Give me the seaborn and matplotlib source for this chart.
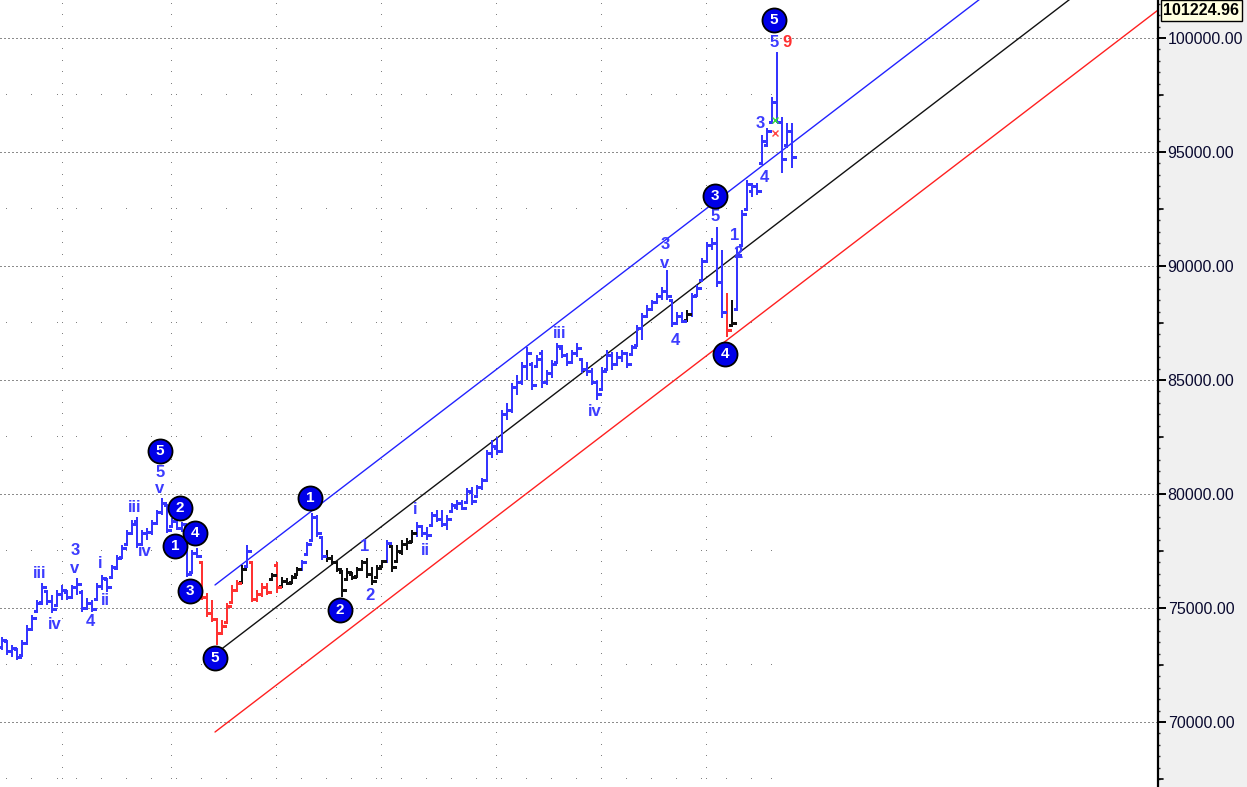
import numpy as np
import pandas as pd
import matplotlib
matplotlib.use("Agg")
import matplotlib.pyplot as plt
import seaborn as sns
from matplotlib.ticker import MultipleLocator, FuncFormatter
from matplotlib.patches import Rectangle

# ---------------- data ----------------
highs = [73730, 73600, 73380, 73250, 73600, 74260, 74690, 75350, 76100, 75790,
         75570, 75790, 76010, 75790, 76010, 76320, 75790, 75440, 75350, 76100,
         76450, 76320, 76890, 77330, 77760, 78420, 78860, 78990, 78420, 78510,
         78860, 79300, 79830, 79520, 78950, 78860, 78770, 78640, 77540, 77630,
         77020, 75660, 75350, 74560, 74470, 75220, 76010, 76230, 76890, 77760,
         77020, 75790, 76100, 76100, 76540, 77020, 76360, 76320, 76450, 76800,
         77110, 77900, 79170, 79080, 78110, 77540, 77330, 77020, 76670, 76750,
         76580, 76800, 77110, 77190, 76800, 76890, 77110, 77980, 77760, 77760,
         77980, 78070, 78420, 78770, 78640, 78550, 79210, 79300, 79300, 79080,
         79610, 79740, 79740, 80260, 80310, 80400, 80700, 81930, 82370, 82500,
         83680, 83990, 84870, 85220, 85790, 86450, 85790, 86100, 86320, 85440,
         85880, 86620, 86540, 86190, 86320, 86620, 85970, 85790, 85530, 85000,
         85570, 86320, 86230, 86230, 86320, 86230, 86540, 87410, 87940, 88290,
         88510, 88820, 89080, 89830, 88510, 87980, 87980, 88070, 88820, 89170,
         90350, 91050, 91230, 91710, 90700, 88820, 88510, 90830, 92460, 93770,
         93640, 93640, 95750, 96050, 97410, 99390, 96540, 96270, 96270]
lows = [73160, 72940, 72850, 72720, 72940, 73380, 74040, 74830, 75130, 75130,
        74780, 75130, 75350, 75350, 75440, 75570, 74830, 74910, 74830, 75350,
        75790, 75700, 76320, 76670, 77190, 77760, 78200, 77630, 77760, 77980,
        78200, 78640, 79080, 78290, 78550, 78420, 78330, 76360, 76580, 77190,
        75350, 74610, 74390, 73380, 73820, 74390, 75220, 75700, 76100, 76800,
        75260, 75260, 75480, 75570, 76230, 75660, 75920, 76010, 76140, 76450,
        76670, 77330, 77980, 78110, 77110, 77020, 76890, 76580, 75480, 76230,
        76230, 76360, 76670, 76320, 76010, 76320, 76800, 77020, 76580, 77020,
        77330, 77540, 77900, 78110, 78110, 77980, 78640, 78770, 78550, 78420,
        79210, 79300, 79300, 79610, 79520, 79870, 80180, 80530, 81580, 81710,
        81800, 83250, 83550, 84340, 84780, 85000, 84560, 85530, 84650, 84780,
        85090, 85750, 85970, 85610, 85790, 86010, 85310, 85180, 84780, 84120,
        84560, 85440, 85440, 85660, 85790, 85530, 86100, 86540, 86750, 87720,
        88070, 88380, 88510, 88510, 87330, 87410, 87500, 87630, 87760, 88730,
        89390, 90130, 90700, 89080, 87720, 86890, 87330, 88070, 90830, 92460,
        93030, 93110, 94430, 95220, 96270, 96270, 94080, 95180, 94300]
opens = [73300, 73550, 73100, 73200, 72950, 73450, 74100, 74850, 75250, 75750,
         75300, 75150, 75600, 75700, 75500, 75900, 75700, 75000, 75200, 75400,
         75950, 76250, 76350, 76750, 77250, 77800, 78300, 78800, 77800, 78300,
         78350, 78750, 79200, 79500, 78600, 78800, 78500, 78600, 76600, 77400,
         77000, 75500, 74800, 74500, 73900, 74400, 75250, 75800, 76150, 76850,
         77000, 75400, 75600, 75900, 76250, 76900, 75950, 76200, 76150, 76500,
         76700, 77350, 78000, 79000, 78100, 77300, 77200, 77000, 76600, 76250,
         76500, 76400, 76700, 77000, 76500, 76350, 76850, 77050, 77700, 77050,
         77450, 77800, 77950, 78300, 78600, 78300, 78650, 79100, 78900, 78700,
         79250, 79450, 79600, 79650, 80100, 79900, 80300, 80600, 81800, 82000,
         81900, 83500, 83700, 84700, 84900, 85600, 85700, 85600, 86200, 84900,
         85300, 85800, 86400, 86100, 85800, 86200, 85900, 85500, 85400, 84900,
         84600, 85500, 86100, 85700, 86000, 86200, 86150, 86550, 87300, 87800,
         88100, 88400, 88700, 88900, 88500, 87500, 87800, 87650, 87900, 88750,
         89400, 90200, 90900, 91000, 89300, 88000, 87400, 88100, 90900, 92500,
         93300, 93500, 94500, 95300, 96300, 97200, 96300, 95300, 95900]
closes = [73600, 73100, 73250, 72850, 73450, 74100, 74550, 75200, 75900, 75300,
          74950, 75600, 75800, 75500, 75900, 76050, 75000, 75200, 74950, 75950,
          76300, 75900, 76800, 77200, 77650, 78300, 78700, 77800, 78300, 78350,
          78750, 79200, 79600, 78400, 78800, 78500, 78700, 76500, 77400, 77300,
          75500, 74800, 74500, 73900, 74200, 75100, 75800, 76100, 76700, 77500,
          75400, 75600, 75900, 75700, 76450, 75900, 76200, 76100, 76350, 76700,
          77000, 77800, 79000, 78300, 77300, 77200, 77000, 76700, 75800, 76600,
          76350, 76700, 77000, 76500, 76200, 76750, 77050, 77850, 76800, 77500,
          77800, 77900, 78300, 78600, 78300, 78200, 79100, 78900, 78700, 78900,
          79500, 79600, 79400, 80150, 79700, 80300, 80600, 81800, 82100, 81900,
          83500, 83700, 84700, 84900, 85600, 86200, 84800, 85900, 84900, 85300,
          85700, 86500, 86100, 85800, 86200, 86400, 85500, 85400, 84900, 84400,
          85400, 86100, 85700, 86000, 86200, 85700, 86450, 87300, 87800, 88100,
          88400, 88700, 88900, 88700, 87500, 87800, 87600, 87900, 88700, 89050,
          90200, 90900, 91000, 89300, 88000, 87200, 87500, 90500, 92300, 93600,
          93500, 93300, 95500, 95900, 97200, 96300, 94700, 95900, 94800]
bar_colors = ("B" * 40 + "R" * 8 + "K" + "B" + "RRRR" + "K" + "R" + "KKKK" +
              "BBBBB" + "K" * 12 + "B" + "K" * 5 + "B" * 54 + "K" + "B" * 7 +
              "R" + "K" + "B" * 12)

# channel lines: start bar index and value at start / at chart right edge
channel_names = ["upper", "middle", "lower"]
channel_start_idx = [42.6, 42.6, 42.6]
channel_start_val = [76010, 72980, 69560]
channel_end_idx = [231.2, 231.2, 231.2]
channel_end_val = [107690, 104660, 101224.96]

# wave circles (label, bar index, price)
circle_labels = ["5", "2", "1", "4", "3", "5", "1", "2", "3", "4", "5"]
circle_idx = [31.6, 35.6, 34.6, 38.6, 37.6, 42.6, 61.6, 67.6, 142.6, 144.6, 154.4]
circle_val = [81890, 79390, 77720, 78290, 75750, 72810, 79830, 74910, 93070, 86140, 100790]

# wave text labels
text_labels = ["iii", "iv", "3", "v", "4", "i", "ii", "iii", "iv", "5", "v",
               "1", "2", "i", "ii", "iii", "iv", "3", "v", "4", "5", "1", "2",
               "3", "4", "5", "9"]
text_idx = [7.6, 10.6, 14.6, 14.6, 17.6, 19.6, 20.6, 26.6, 28.6, 31.6, 31.6,
            72.6, 73.6, 82.6, 84.6, 111.6, 118.6, 132.6, 132.6, 134.6, 142.6,
            146.6, 147.2, 151.6, 152.4, 154.4, 157.0]
text_val = [76530, 74260, 77540, 76750, 74390, 76970, 75350, 79390, 77500,
            80960, 80260, 77680, 75570, 79300, 77540, 87060, 83600, 90960,
            90130, 86750, 92150, 91320, 90530, 96230, 93860, 99820, 99820]
text_color = ["B"] * 26 + ["R"]

# small x markers near the top
xmark_idx = [154.6, 154.6]
xmark_val = [96400, 95830]
xmark_col = ["#33dd33", "#ff4444"]

# ---------------- style ----------------
sns.set_theme(style="white")
plt.rcParams["font.family"] = ["Liberation Sans", "DejaVu Sans"]

W, H = 1247, 787
fig = plt.figure(figsize=(W / 100, H / 100), dpi=100)
fig.patch.set_facecolor("white")
panel_x = 1158 / W
fig.add_artist(Rectangle((panel_x, 0), 1 - panel_x, 1, transform=fig.transFigure,
                         facecolor="#f0f0f0", edgecolor="none", zorder=-5))
ax = fig.add_axes([0, 0, panel_x, 1])
ax.set_facecolor("white")

YMIN, YMAX = 67149, 101667
XMIN, XMAX = -0.4, 231.2
ax.set_xlim(XMIN, XMAX)
ax.set_ylim(YMIN, YMAX)

# ---------------- grid ----------------
for lvl in np.arange(70000, 101000, 5000):
    ax.axhline(lvl, color="#8c8c8c", lw=0.75, linestyle=(0, (1, 2)), zorder=0.5,
               antialiased=False)
month_cols = [12.0, 33.8, 54.8, 75.8, 98.8, 119.8, 140.8]
dot_levels = np.arange(67500, 101600, 500)
dot_levels = dot_levels[dot_levels % 5000 != 0]
for mc in month_cols:
    ax.plot(np.full(len(dot_levels), mc), dot_levels, ",", color="#808080", zorder=0.5)
week_idx = np.concatenate([[0.8, 5.8, 11.0], np.arange(14.8, 150.0, 5.0), [153.8]])
for lvl in np.arange(67500, 101000, 5000):
    ax.plot(week_idx, np.full(len(week_idx), lvl), ",", color="#808080", zorder=0.5)

# ---------------- channel lines (seaborn) ----------------
rows = []
for nm, si, sv, ei, ev in zip(channel_names, channel_start_idx, channel_start_val,
                              channel_end_idx, channel_end_val):
    rows.append({"idx": si, "value": sv, "line": nm})
    rows.append({"idx": ei, "value": ev, "line": nm})
lines_df = pd.DataFrame(rows)
sns.lineplot(data=lines_df, x="idx", y="value", hue="line", estimator=None,
             palette={"upper": "#2222ff", "middle": "#111111", "lower": "#ff2020"},
             legend=False, lw=1.0, ax=ax, zorder=2)

# ---------------- OHLC bars ----------------
cmap = {"B": "#3535ff", "R": "#ff3232", "K": "#101010"}
df = pd.DataFrame({"idx": np.arange(len(highs)), "open": opens, "high": highs,
                   "low": lows, "close": closes,
                   "col": [cmap[c] for c in bar_colors]})
ax.vlines(df["idx"], df["low"], df["high"], colors=df["col"], lw=1.3, zorder=3,
          antialiased=False)
ax.hlines(df["open"], df["idx"] - 0.7, df["idx"], colors=df["col"], lw=0.8, zorder=3,
          antialiased=False)
ax.hlines(df["close"], df["idx"], df["idx"] + 0.7, colors=df["col"], lw=0.8, zorder=3,
          antialiased=False)

# small markers
for xi, yv, c in zip(xmark_idx, xmark_val, xmark_col):
    ax.plot(xi, yv, marker="x", ms=4, mew=1.0, color=c, zorder=4)

# ---------------- wave labels ----------------
tcol = {"B": "#3c3cff", "R": "#ff3030"}
for t, xi, yv, c in zip(text_labels, text_idx, text_val, text_color):
    ax.text(xi, yv, t, color=tcol[c], fontsize=12, fontweight="bold",
            ha="center", va="center", zorder=5)

circ_df = pd.DataFrame({"idx": circle_idx, "val": circle_val})
sns.scatterplot(data=circ_df, x="idx", y="val", s=300, color="#0000e8",
                edgecolor="black", linewidth=1.3, ax=ax, zorder=6, legend=False)
for t, xi, yv in zip(circle_labels, circle_idx, circle_val):
    ax.text(xi, yv, t, color="white", fontsize=11, fontweight="bold",
            ha="center", va="center", zorder=7)

# ---------------- axes styling ----------------
ax.set_xlabel("")
ax.set_ylabel("")
ax.xaxis.set_visible(False)
for s in ["top", "left", "bottom"]:
    ax.spines[s].set_visible(False)
ax.spines["right"].set_color("black")
ax.spines["right"].set_linewidth(1.6)
ax.yaxis.tick_right()
ax.yaxis.set_major_locator(MultipleLocator(5000))
ax.yaxis.set_minor_locator(MultipleLocator(500))
ax.yaxis.set_major_formatter(FuncFormatter(lambda v, p: f"{v:.2f}"))
ax.tick_params(axis="y", which="major", direction="out", length=6, width=1.4,
               color="black", pad=1, labelsize=11.5, labelcolor="#0a0a30")
ax.tick_params(axis="y", which="minor", direction="out", length=1.5, width=1.0,
               color="#333333")
ax.grid(False)
ytr = ax.get_yaxis_transform()
for lvl in np.arange(67500, 101000, 5000):
    ax.plot([1.0, 1.0 + 4.5 / 1158], [lvl, lvl], color="black", lw=1.2,
            transform=ytr, clip_on=False, zorder=8)

# last value box
fig.text((1158 + 1245) / 2 / W, 1 - 10.5 / H, f"{channel_end_val[2]:.2f}",
         ha="center", va="center", fontsize=11.5, fontweight="bold", color="black",
         bbox=dict(boxstyle="square,pad=0.18", facecolor="#ffffe1", edgecolor="black",
                   linewidth=1.0))

fig.savefig("out.png", dpi=100)
